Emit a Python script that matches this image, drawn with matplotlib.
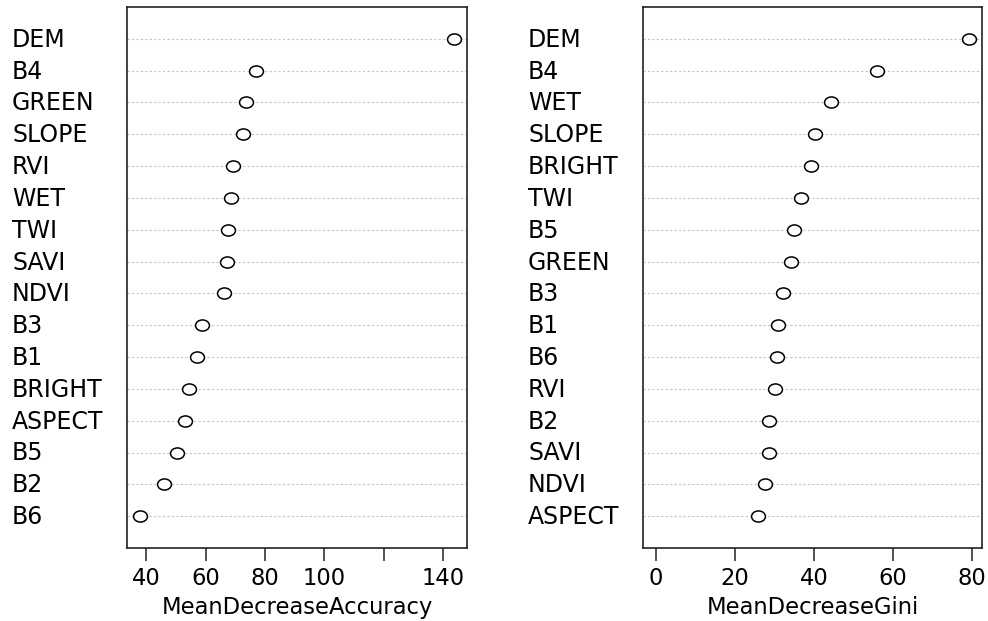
import matplotlib.pyplot as plt
import matplotlib.transforms as mtransforms
from matplotlib.path import Path

# variable importance from the random forest model (top to bottom)
acc_vars = ["DEM", "B4", "GREEN", "SLOPE", "RVI", "WET", "TWI", "SAVI",
            "NDVI", "B3", "B1", "BRIGHT", "ASPECT", "B5", "B2", "B6"]
acc_vals = [143.8, 76.9, 73.5, 72.6, 69.1, 68.6, 67.7, 67.3,
            66.1, 58.7, 57.0, 54.3, 53.1, 50.5, 46.1, 37.8]

gini_vars = ["DEM", "B4", "WET", "SLOPE", "BRIGHT", "TWI", "B5", "GREEN",
             "B3", "B1", "B6", "RVI", "B2", "SAVI", "NDVI", "ASPECT"]
gini_vals = [79.3, 55.9, 44.3, 40.4, 39.3, 36.7, 35.1, 34.1,
             32.2, 30.9, 30.6, 30.3, 28.6, 28.6, 27.6, 26.0]

acc_ticks = [40, 60, 80, 100, 120, 140]
acc_ticklabels = ["40", "60", "80", "100", "", "140"]
gini_ticks = [0, 20, 40, 60, 80]
gini_ticklabels = ["0", "20", "40", "60", "80"]

plt.rcParams['font.family'] = ['DejaVu Sans']
FS = 16.3
NAME_FS = 17

fig = plt.figure(figsize=(9.88, 6.21), dpi=100)

# slightly flattened open circle
oval = Path.unit_circle().transformed(mtransforms.Affine2D().scale(1.0, 0.8))


def dotchart(rect, names, vals, xlim, ticks, ticklabels, xlabel, label_x):
    ax = fig.add_axes(rect)
    n = len(names)
    ypos = list(range(n, 0, -1))
    for y in ypos:
        ax.axhline(y, color='#c4c4c4', lw=0.8, ls=(0, (2, 2)), zorder=1)
    ax.plot(vals, ypos, ls='none', marker=oval, ms=10, mfc='white',
            mec='black', mew=1.1, zorder=3)
    ax.set_ylim(0, n + 1)
    ax.set_xlim(*xlim)
    ax.set_yticks([])
    ax.set_xticks(ticks)
    ax.set_xticklabels(ticklabels, fontsize=FS)
    ax.tick_params(axis='x', direction='out', length=9, width=1.2,
                   color='#333333', pad=5)
    ax.set_xlabel(xlabel, fontsize=FS, labelpad=4)
    for s in ax.spines.values():
        s.set_linewidth(1.2)
        s.set_color('#222222')
    trans = mtransforms.blended_transform_factory(fig.transFigure, ax.transData)
    for name, y in zip(names, ypos):
        ax.text(label_x, y - 0.03, name, transform=trans, ha='left',
                va='center', fontsize=NAME_FS, clip_on=False)
    return ax


def padded(vals, lo=None):
    lo = min(vals) if lo is None else lo
    hi = max(vals)
    pad = (hi - lo) * 0.04
    return lo - pad, hi + pad


dotchart([127 / 988, 73 / 621, 340 / 988, 541 / 621], acc_vars, acc_vals,
         padded(acc_vals), acc_ticks, acc_ticklabels,
         "MeanDecreaseAccuracy", 12 / 988)
dotchart([643 / 988, 73 / 621, 339 / 988, 541 / 621], gini_vars, gini_vals,
         padded(gini_vals, 0), gini_ticks, gini_ticklabels,
         "MeanDecreaseGini", 528 / 988)

fig.savefig("out.png", dpi=100)
